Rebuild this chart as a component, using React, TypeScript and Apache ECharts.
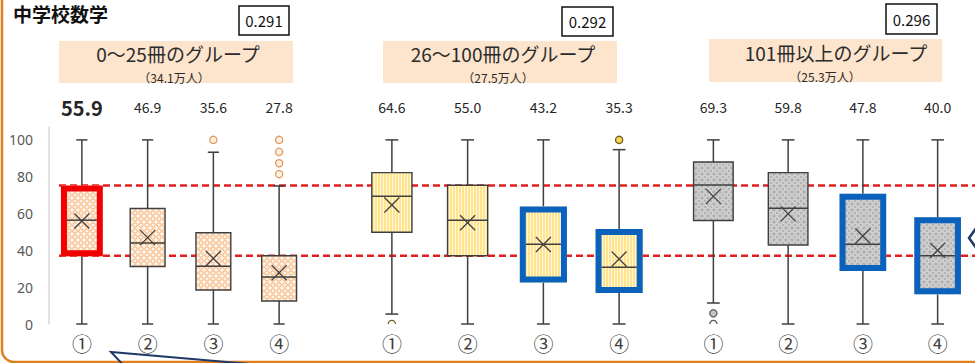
import React, { useEffect, useRef } from "react";
import * as echarts from "echarts";

const categories = ["①", "②", "③", "④"];
const groupNames = ["0～25冊のグループ", "26～100冊のグループ", "101冊以上のグループ"];
const groupSizes = ["（34.1万人）", "（27.5万人）", "（25.3万人）"];
const correlations = ["0.291", "0.292", "0.296"];
const chartTitle = "中学校数学";

// [min, Q1, median, Q3, max]
const g1Box = [
  [0, 36.8, 56.4, 75.2, 100],
  [0, 31.2, 44.0, 62.7, 100],
  [0, 18.5, 31.3, 49.6, 93.3],
  [0, 12.5, 25.5, 37.1, 75.0],
];
const g1Mean = [55.9, 46.9, 35.6, 27.8];
const g1Outliers = [[], [], [100], [81.4, 87.3, 93.5, 100]];
const g1Highlight = ["red", "", "", ""];

const g2Box = [
  [5.4, 49.8, 69.4, 82.2, 100],
  [0, 37.1, 56.4, 75.4, 100],
  [0, 22.6, 43.3, 63.8, 100],
  [0, 16.8, 30.8, 51.6, 94.7],
];
const g2Mean = [64.6, 55.0, 43.2, 35.3];
const g2Outliers = [[0], [], [], [100]];
const g2Highlight = ["", "", "blue", "blue"];

const g3Box = [
  [11.4, 56.2, 75.5, 88.0, 100],
  [0, 42.9, 62.9, 82.2, 100],
  [0, 28.8, 43.3, 70.7, 100],
  [0, 16.1, 37.1, 58.0, 100],
];
const g3Mean = [69.3, 59.8, 47.8, 40.0];
const g3Outliers = [[5.8, 0], [], [], []];
const g3Highlight = ["", "", "blue", "blue"];

const referenceLines = [75.2, 37.1];

function makePattern(kind: string): any {
  const c = document.createElement("canvas");
  const ctx = c.getContext("2d") as CanvasRenderingContext2D;
  if (kind === "orange") {
    c.width = 6; c.height = 6;
    ctx.fillStyle = "#FFF3E7";
    ctx.fillRect(0, 0, 6, 6);
    ctx.strokeStyle = "#F3AE72";
    ctx.lineWidth = 1;
    ctx.beginPath();
    ctx.arc(3, 3, 2.2, 0, Math.PI * 2);
    ctx.stroke();
  } else if (kind === "yellow") {
    c.width = 3; c.height = 3;
    ctx.fillStyle = "#FFE48C";
    ctx.fillRect(0, 0, 3, 3);
    ctx.fillStyle = "#FFF8E2";
    ctx.fillRect(2, 0, 1, 3);
  } else {
    c.width = 6; c.height = 6;
    ctx.fillStyle = "#B4B4B4";
    ctx.fillRect(0, 0, 6, 6);
    ctx.strokeStyle = "#E6E6E6";
    ctx.lineWidth = 1;
    ctx.beginPath();
    ctx.arc(3, 3, 2.2, 0, Math.PI * 2);
    ctx.stroke();
  }
  return { image: c, repeat: "repeat", imageWidth: c.width, imageHeight: c.height };
}

type Group = {
  box: number[][];
  mean: number[];
  outliers: number[][];
  highlight: string[];
  pattern: string;
  outFill: string;
  outStroke: string;
};

const groups: Group[] = [
  { box: g1Box, mean: g1Mean, outliers: g1Outliers, highlight: g1Highlight, pattern: "orange", outFill: "#FFF1E4", outStroke: "#E49A5C" },
  { box: g2Box, mean: g2Mean, outliers: g2Outliers, highlight: g2Highlight, pattern: "yellow", outFill: "#FFD653", outStroke: "#6B5A1E" },
  { box: g3Box, mean: g3Mean, outliers: g3Outliers, highlight: g3Highlight, pattern: "gray", outFill: "#C4C4C4", outStroke: "#5A5A5A" },
];

export default function App() {
  const ref = useRef<HTMLDivElement>(null);
  useEffect(() => {
    if (!ref.current) return;
    const chart = echarts.init(ref.current, null, { renderer: "svg" });
    const ink = "#3F3F3F";

    const makeRender = (g: Group) => {
      const fill = makePattern(g.pattern);
      return (params: any, api: any) => {
        const i = params.dataIndex;
        const idx = api.value(0);
        const mn = api.value(1), q1 = api.value(2), md = api.value(3), q3 = api.value(4), mx = api.value(5), mean = api.value(6);
        const cx = api.coord([idx, 0])[0];
        const y = (v: number) => api.coord([idx, v])[1];
        const band = api.size([1, 0])[0];
        const hl = g.highlight[i];
        const w = band * 0.53 + (hl ? 7 : 0);
        const capHalf = band * 0.085;
        const cs = params.coordSys;
        const yBottom = cs.y + cs.height;
        const children: any[] = [];
        const ls = { stroke: ink, lineWidth: 1.5 };
        children.push({ type: "line", shape: { x1: cx, y1: y(mx), x2: cx, y2: y(q3) }, style: ls });
        children.push({ type: "line", shape: { x1: cx, y1: y(q1), x2: cx, y2: y(mn) }, style: ls });
        children.push({ type: "line", shape: { x1: cx - capHalf, y1: y(mx), x2: cx + capHalf, y2: y(mx) }, style: ls });
        children.push({ type: "line", shape: { x1: cx - capHalf, y1: y(mn), x2: cx + capHalf, y2: y(mn) }, style: ls });
        children.push({
          type: "rect",
          shape: { x: cx - w / 2, y: y(q3), width: w, height: y(q1) - y(q3) },
          style: { fill, stroke: hl ? null : ink, lineWidth: 1.4 },
        });
        const inset = hl ? 6 : 0;
        if (hl) {
          children.push({
            type: "rect",
            shape: { x: cx - w / 2 + 3, y: y(q3) + 3, width: w - 6, height: y(q1) - y(q3) - 6 },
            style: { fill: null, stroke: hl === "red" ? "#F00000" : "#0B62BD", lineWidth: 6 },
          });
        }
        children.push({ type: "line", shape: { x1: cx - w / 2 + inset, y1: y(md), x2: cx + w / 2 - inset, y2: y(md) }, style: { stroke: ink, lineWidth: 1.5 } });
        const ym = y(mean);
        const xs = 7.5;
        children.push({ type: "line", shape: { x1: cx - xs, y1: ym - xs, x2: cx + xs, y2: ym + xs }, style: { stroke: ink, lineWidth: 1.3 } });
        children.push({ type: "line", shape: { x1: cx - xs, y1: ym + xs, x2: cx + xs, y2: ym - xs }, style: { stroke: ink, lineWidth: 1.3 } });
        const r = 3.6;
        (g.outliers[i] || []).forEach((v) => {
          const oy = y(v);
          if (oy + r > yBottom) {
            const s = Math.max(-1, Math.min(1, (yBottom - oy) / r));
            const a = Math.asin(s);
            children.push({
              type: "arc",
              shape: { cx, cy: oy, r, startAngle: Math.PI - a, endAngle: 2 * Math.PI + a, clockwise: true },
              style: { stroke: g.outStroke, lineWidth: 1.3, fill: null },
            });
          } else {
            children.push({ type: "circle", shape: { cx, cy: oy, r }, style: { fill: g.outFill, stroke: g.outStroke, lineWidth: 1.3 } });
          }
        });
        const big = hl === "red";
        children.push({
          type: "text",
          x: cx,
          y: cs.y - 20,
          style: {
            text: mean.toFixed(1),
            fill: "#262626",
            fontSize: big ? 20 : 14,
            fontWeight: big ? "bold" : "normal",
            fontFamily: "Noto Sans CJK JP",
            align: "center",
            verticalAlign: "middle",
          },
        });
        return { type: "group", children };
      };
    };

    const gridLayout = [
      { left: 49, top: 127, width: 263, height: 197 },
      { left: 354, top: 127, width: 303, height: 197 },
      { left: 676, top: 127, width: 305, height: 197 },
      { left: 59, top: 127, width: 916, height: 197 },
    ];

    const xAxes: any[] = [0, 1, 2].map((k) => ({
      type: "category",
      gridIndex: k,
      data: categories,
      axisLine: { show: false },
      axisTick: { show: false },
      axisLabel: { fontSize: 20, color: "#404040", margin: 9, fontFamily: "Noto Sans CJK JP" },
    }));
    xAxes.push({ type: "value", gridIndex: 3, min: 0, max: 1, show: false });

    const yAxes: any[] = [0, 1, 2, 3].map((k) => ({
      type: "value",
      gridIndex: k,
      min: 0,
      max: 107,
      interval: 20,
      show: k === 0,
      splitLine: { show: false },
      axisTick: { show: false },
      axisLine: { show: true, lineStyle: { color: "#D9D9D9", width: 1.5 } },
      axisLabel: {
        color: "#595959",
        fontSize: 14,
        margin: 16,
        fontFamily: "Noto Sans",
        formatter: (v: number) => (v % 20 === 0 ? String(v) : ""),
      },
    }));

    const series: any[] = groups.map((g, k) => ({
      type: "custom",
      xAxisIndex: k,
      yAxisIndex: k,
      clip: false,
      z: 3,
      renderItem: makeRender(g),
      encode: { x: 0, y: [1, 2, 3, 4, 5] },
      data: g.box.map((b, i) => [i, ...b, g.mean[i]]),
    }));
    referenceLines.forEach((v) => {
      series.push({
        type: "line",
        xAxisIndex: 3,
        yAxisIndex: 3,
        data: [[0, v], [1, v]],
        symbol: "none",
        silent: true,
        z: 1,
        lineStyle: { type: [7, 4], color: "#E21F1F", width: 2.5 },
      });
    });

    const panels = [
      { x: 59, y: 41, w: 234, h: 42, tx: 178, ty: 53, sx: 174, sy: 77, cx: 239, cy: 6, cw: 50, ch: 29 },
      { x: 383, y: 41, w: 234, h: 42, tx: 503, ty: 53, sx: 498, sy: 77, cx: 562, cy: 7, cw: 51, ch: 29 },
      { x: 709, y: 39, w: 233, h: 43, tx: 836, ty: 52, sx: 825, sy: 76, cx: 886, cy: 4, cw: 51, ch: 30 },
    ];
    const graphic: any[] = [
      {
        type: "rect",
        shape: { x: 2, y: -30, width: 1100, height: 392, r: 12 },
        style: { fill: null, stroke: "#E2801E", lineWidth: 2.5 },
        z: 0,
      },
      {
        type: "text",
        x: 13,
        y: 4,
        style: { text: chartTitle, fontSize: 19, fontWeight: "bold", fill: "#111", fontFamily: "Noto Sans CJK JP" },
      },
    ];
    panels.forEach((p, k) => {
      graphic.push({ type: "rect", shape: { x: p.x, y: p.y, width: p.w, height: p.h }, style: { fill: "#FCE4CD" }, z: 0 });
      graphic.push({
        type: "text", x: p.tx, y: p.ty,
        style: { text: groupNames[k], fontSize: 19, lineHeight: 19, fill: "#2B2B2B", fontFamily: "Noto Sans CJK JP", align: "center", verticalAlign: "middle" },
      });
      graphic.push({
        type: "text", x: p.sx, y: p.sy,
        style: { text: groupSizes[k], fontSize: 12, lineHeight: 12, fill: "#2B2B2B", fontFamily: "Noto Sans CJK JP", align: "center", verticalAlign: "middle" },
      });
      graphic.push({ type: "rect", shape: { x: p.cx, y: p.cy, width: p.cw, height: p.ch }, style: { fill: "#fff", stroke: "#111", lineWidth: 1.5 } });
      graphic.push({
        type: "text", x: p.cx + p.cw / 2, y: p.cy + p.ch / 2,
        style: { text: correlations[k], fontSize: 15, fill: "#111", fontFamily: "Noto Sans CJK JP", align: "center", verticalAlign: "middle" },
      });
    });
    graphic.push({
      type: "polyline",
      shape: { points: [[128, 370], [111, 352], [250, 364]] },
      style: { stroke: "#1F3A68", lineWidth: 2, fill: null },
    });
    graphic.push({
      type: "polyline",
      shape: { points: [[977, 227], [969, 238], [977, 249]] },
      style: { stroke: "#1F3A68", lineWidth: 2.5, fill: null },
    });

    chart.setOption({
      animation: false,
      backgroundColor: "#ffffff",
      grid: gridLayout,
      xAxis: xAxes,
      yAxis: yAxes,
      series,
      graphic,
    });
    return () => chart.dispose();
  }, []);
  return <div ref={ref} style={{ position: "absolute", left: 0, top: 0, width: 975, height: 363 }} />;
}
